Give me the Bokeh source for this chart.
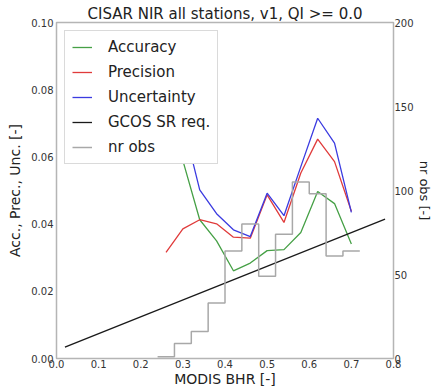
from bokeh.plotting import figure
from bokeh.models import (Range1d, LinearAxis, FixedTicker, PrintfTickFormatter,
                          Legend, LegendItem)
from bokeh.embed import file_html
from bokeh.resources import INLINE

# ---- data ----
bhr = [0.26, 0.30, 0.34, 0.38, 0.42, 0.46, 0.50, 0.54, 0.58, 0.62, 0.66, 0.70]
accuracy = [0.0596, 0.0589, 0.0413, 0.0350, 0.0261, 0.0284, 0.0321, 0.0324,
            0.0375, 0.0497, 0.0461, 0.0341]
precision = [0.0316, 0.0386, 0.0413, 0.0401, 0.0361, 0.0358, 0.0487, 0.0405,
             0.0552, 0.0653, 0.0586, 0.0438]
uncertainty = [0.0675, 0.0704, 0.0502, 0.0431, 0.0383, 0.0363, 0.0492, 0.0425,
               0.0571, 0.0715, 0.0641, 0.0435]
bin_edges = [0.24, 0.28, 0.32, 0.36, 0.40, 0.44, 0.48, 0.52, 0.56, 0.60, 0.64, 0.68, 0.72]
nr_obs = [1, 9, 16, 33, 64, 80, 49, 74, 105, 98, 61, 64]
gcos_x = [0.02, 0.78]
gcos_y = [0.0034, 0.0415]

x_ticks = [0.0, 0.1, 0.2, 0.3, 0.4, 0.5, 0.6, 0.7, 0.8]
y_ticks = [0.00, 0.02, 0.04, 0.06, 0.08, 0.10]
obs_ticks = [0, 50, 100, 150, 200]

FONT = "DejaVu Sans"

p = figure(width=434, height=389, output_backend="svg", toolbar_location=None,
           x_range=Range1d(0, 0.8), y_range=Range1d(0, 0.10),
           min_border_left=56, min_border_right=40, min_border_top=22,
           min_border_bottom=28)
p.extra_y_ranges = {"obs": Range1d(0, 200)}

p.title.text = "CISAR NIR all stations, v1, QI >= 0.0"
p.title.align = "center"
p.title.text_font = FONT
p.title.text_font_style = "normal"
p.title.text_font_size = "15px"
p.title.text_color = "#222222"
p.title.offset = 0
p.title.standoff = 0

p.xgrid.visible = False
p.ygrid.visible = False
p.outline_line_color = "#b5b5b5"
p.outline_line_width = 1.5

r_acc = p.line(bhr, accuracy, line_color="#46a046", line_width=1.3)
r_prec = p.line(bhr, precision, line_color="#e03b3b", line_width=1.3)
r_unc = p.line(bhr, uncertainty, line_color="#3b3be0", line_width=1.3)
r_gcos = p.line(gcos_x, gcos_y, line_color="#1a1a1a", line_width=1.3)
r_obs = p.step(bin_edges, nr_obs + [nr_obs[-1]], mode="after", line_color="#a8a8a8",
               line_width=1.5, y_range_name="obs")

def style_axis(ax, label_size="10px", title_size="14px"):
    ax.axis_line_color = None
    ax.major_tick_line_color = None
    ax.minor_tick_line_color = None
    ax.major_tick_out = 0
    ax.major_tick_in = 0
    ax.major_label_text_font = FONT
    ax.major_label_text_font_size = label_size
    ax.major_label_text_color = "#333333"
    ax.axis_label_text_font = FONT
    ax.axis_label_text_font_size = title_size
    ax.axis_label_text_font_style = "normal"
    ax.axis_label_text_color = "#222222"

xa = p.xaxis[0]
xa.ticker = FixedTicker(ticks=x_ticks)
xa.formatter = PrintfTickFormatter(format="%.1f")
xa.axis_label = "MODIS BHR [-]"
style_axis(xa)
xa.major_label_standoff = 1
xa.axis_label_standoff = 0

ya = p.yaxis[0]
ya.ticker = FixedTicker(ticks=y_ticks)
ya.formatter = PrintfTickFormatter(format="%.2f")
ya.axis_label = "Acc., Prec., Unc. [-]"
style_axis(ya)
ya.major_label_standoff = 3
ya.axis_label_standoff = 5

ra = LinearAxis(y_range_name="obs", ticker=FixedTicker(ticks=obs_ticks),
                formatter=PrintfTickFormatter(format="%d"), axis_label="nr obs [-]")
style_axis(ra, title_size="13px")
ra.major_label_standoff = 1
ra.axis_label_standoff = 0
p.add_layout(ra, "right")

legend = Legend(items=[
    LegendItem(label="Accuracy", renderers=[r_acc]),
    LegendItem(label="Precision", renderers=[r_prec]),
    LegendItem(label="Uncertainty", renderers=[r_unc]),
    LegendItem(label="GCOS SR req.", renderers=[r_gcos]),
    LegendItem(label="nr obs", renderers=[r_obs]),
], location="top_left")
legend.label_text_font = FONT
legend.label_text_font_size = "15px"
legend.label_text_color = "#222222"
legend.border_line_color = "#b5b5b5"
legend.background_fill_color = "white"
legend.background_fill_alpha = 1.0
legend.glyph_width = 20
legend.glyph_height = 14
legend.label_height = 15
legend.spacing = 7
legend.padding = 7
legend.margin = 8
legend.label_standoff = 16
p.add_layout(legend)

open("out.html", "w").write(file_html(p, INLINE))
